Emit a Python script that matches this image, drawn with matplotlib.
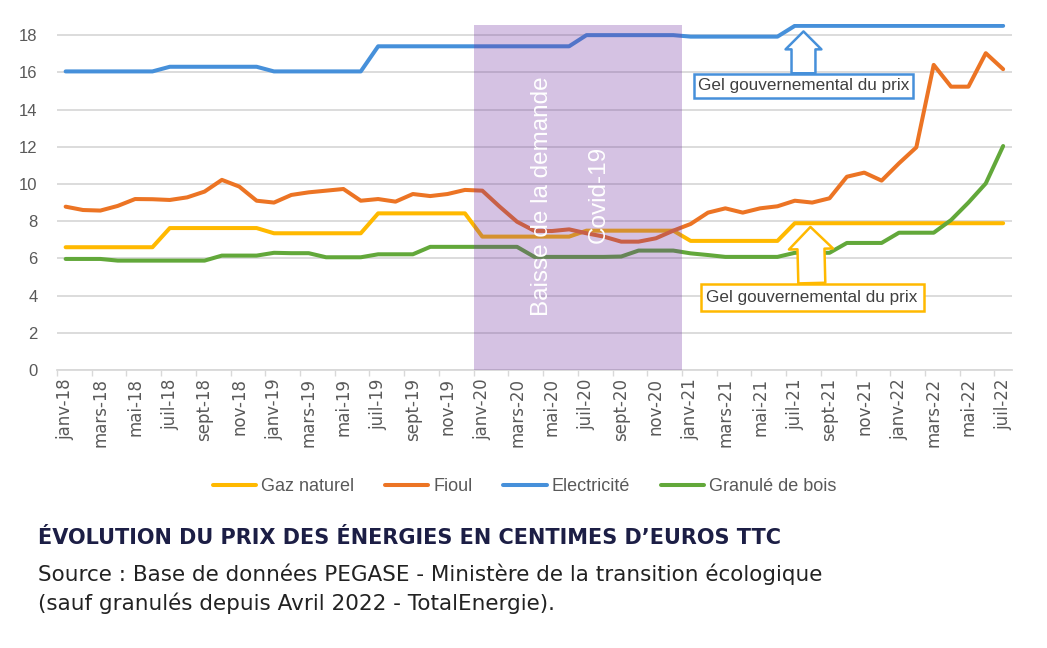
import numpy as np
import matplotlib
matplotlib.use("Agg")
import matplotlib.pyplot as plt

# Monthly prices, janv-18 .. juil-22 (c€ TTC)
gaz = [6.6] * 6 + [7.63] * 6 + [7.35] * 6 + [8.42] * 6 + [7.17] * 6 + [7.49] * 6 + [6.94] * 6 + [7.89] * 13
fioul = [8.78, 8.60, 8.57, 8.82, 9.19, 9.18, 9.14, 9.28, 9.59, 10.22, 9.86, 9.10,
         9.00, 9.41, 9.55, 9.64, 9.73, 9.10, 9.19, 9.05, 9.46, 9.35, 9.46, 9.68,
         9.64, 8.78, 7.97, 7.48, 7.47, 7.56, 7.35, 7.17, 6.90, 6.90, 7.08, 7.49,
         7.85, 8.46, 8.69, 8.46, 8.69, 8.80, 9.10, 9.00, 9.23, 10.39, 10.61, 10.18,
         11.11, 11.97, 16.40, 15.23, 15.23, 17.03, 16.17]
elec = [16.05] * 6 + [16.3] * 6 + [16.05] * 6 + [17.4] * 12 + [18.0] * 6 + [17.92] * 6 + [18.5] * 13
granule = ([5.97] * 3 + [5.88] * 6 + [6.15] * 3 + [6.3, 6.28, 6.28] + [6.06] * 3 + [6.22] * 3
           + [6.62] * 6 + [6.08] * 5 + [6.1] + [6.42] * 3 + [6.27, 6.18] + [6.08] * 4
           + [6.3] * 3 + [6.83] * 3 + [7.38] * 3 + [8.06, 9.0, 10.03, 12.04])

tick_labels = ["janv-18", "mars-18", "mai-18", "juil-18", "sept-18", "nov-18",
               "janv-19", "mars-19", "mai-19", "juil-19", "sept-19", "nov-19",
               "janv-20", "mars-20", "mai-20", "juil-20", "sept-20", "nov-20",
               "janv-21", "mars-21", "mai-21", "juil-21", "sept-21", "nov-21",
               "janv-22", "mars-22", "mai-22", "juil-22"]

series = [("Gaz naturel", gaz, "#FFB900"),
          ("Fioul", fioul, "#EC7424"),
          ("Electricité", elec, "#4690DA"),
          ("Granulé de bois", granule, "#62A83A")]

covid_start, covid_end = 23.5, 35.5

plt.rcParams["font.family"] = ["Liberation Sans", "DejaVu Sans"]
grey = "#595959"

fig = plt.figure(figsize=(10.47, 6.48), dpi=100)
ax = fig.add_axes([0.0544, 0.429, 0.912, 0.534])

x = np.arange(len(gaz))
for label, vals, color in series:
    ax.plot(x, vals, color=color, lw=2.9, label=label, solid_capstyle="round", zorder=3)

# covid band drawn over the lines
ax.axvspan(covid_start, covid_end, ymin=0, ymax=18.55 / 18.6, color="#7030A0",
           alpha=0.29, lw=0, zorder=4)
ax.text(27.45, 9.35, "Baisse de la demande", rotation=90, color="white",
        fontsize=17.5, ha="center", va="center", zorder=5)
ax.text(30.7, 9.45, "Covid-19", rotation=90, color="white",
        fontsize=17.5, ha="center", va="center", zorder=5)

# annotations
ax.annotate("Gel gouvernemental du prix", xy=(42.5, 18.2), xytext=(42.5, 15.27),
            ha="center", va="center", fontsize=12.3, color="#404040", zorder=6,
            bbox=dict(boxstyle="square,pad=0.25", fc="white", ec="#4690DA", lw=1.8),
            arrowprops=dict(arrowstyle="simple,head_length=1.05,head_width=2.1,tail_width=1.4",
                            fc="white", ec="#4690DA", lw=1.8, shrinkA=0, shrinkB=0))
ax.annotate("Gel gouvernemental du prix", xy=(42.9, 7.69), xytext=(43.0, 3.9),
            ha="center", va="center", fontsize=12.3, color="#404040", zorder=6,
            bbox=dict(boxstyle="square,pad=0.35", fc="white", ec="#FFB900", lw=1.8),
            arrowprops=dict(arrowstyle="simple,head_length=1.29,head_width=2.58,tail_width=1.58",
                            fc="white", ec="#FFB900", lw=1.8, shrinkA=0, shrinkB=0))

ax.set_xlim(-0.5, len(gaz) - 0.5)
ax.set_ylim(0, 18.6)
ax.set_yticks(np.arange(0, 19, 2))
ax.set_xticks(np.arange(0, len(gaz), 2))
ax.set_xticklabels(tick_labels, rotation=90, family=["DejaVu Sans"])
ax.set_xticks(np.arange(-0.5, len(gaz), 2), minor=True)
ax.tick_params(axis="x", which="major", length=0, pad=6, labelsize=12, labelcolor=grey)
ax.tick_params(axis="x", which="minor", length=4, color="#D9D9D9", width=1)
ax.tick_params(axis="y", length=0, pad=14, labelsize=12, labelcolor=grey)
ax.grid(axis="y", color="#D9D9D9", lw=1.3, zorder=0)
ax.set_axisbelow(True)
for s in ("top", "right", "left"):
    ax.spines[s].set_visible(False)
ax.spines["bottom"].set_color("#D9D9D9")
ax.spines["bottom"].set_linewidth(1.3)

leg = fig.legend(loc="center", bbox_to_anchor=(0.501, 0.2485), ncol=4, frameon=False,
                 fontsize=13, handlelength=2.4, handletextpad=0.28, columnspacing=1.7)
for t in leg.get_texts():
    t.set_color(grey)

fig.text(0.036, 1 - 538 / 648, "ÉVOLUTION DU PRIX DES ÉNERGIES EN CENTIMES D’EUROS TTC",
         fontsize=15, fontweight="bold", color="#1C1E45", va="center", ha="left",
         family=["DejaVu Sans"])
fig.text(0.036, 1 - 574 / 648,
         "Source : Base de données PEGASE - Ministère de la transition écologique",
         fontsize=15.5, color="#222222", va="center", ha="left", family=["DejaVu Sans"])
fig.text(0.036, 1 - 603 / 648, "(sauf granulés depuis Avril 2022 - TotalEnergie).",
         fontsize=15.5, color="#222222", va="center", ha="left", family=["DejaVu Sans"])

fig.savefig("out.png", dpi=100)
